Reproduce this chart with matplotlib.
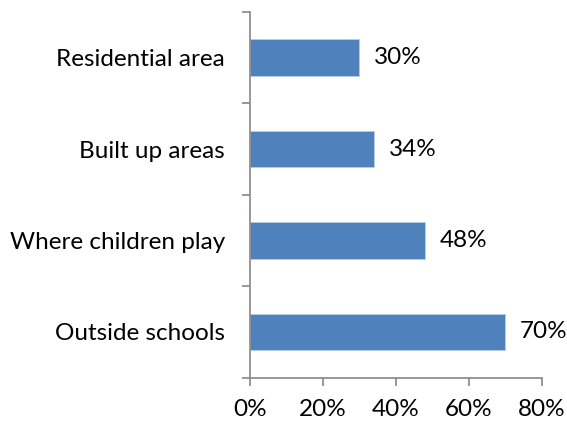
import matplotlib
matplotlib.use("Agg")
import matplotlib.pyplot as plt
from matplotlib.ticker import FixedLocator, PercentFormatter

categories = ["Outside schools", "Where children play", "Built up areas", "Residential area"]
values = [70, 48, 34, 30]
x_ticks = [0, 20, 40, 60, 80]

plt.rcParams["font.family"] = ["Lato", "DejaVu Sans"]
FS = 17.5
TEXT = "#000000"

fig = plt.figure(figsize=(5.67, 4.23), dpi=100)
ax = fig.add_axes([250 / 567, 1 - 377.7 / 423, 291.7 / 567, 365.7 / 423])

ypos = list(range(len(categories)))
ax.barh(ypos, values, height=0.4, color="#4F81BD", edgecolor="#B9CDE5", linewidth=0.6)

for y, v in zip(ypos, values):
    ax.text(v + 4, y, f"{v}%", va="center", ha="left", fontsize=FS, color=TEXT)

ax.set_xlim(0, 80)
ax.set_ylim(-0.5, len(categories) - 0.5)
ax.set_xticks(x_ticks)
ax.xaxis.set_major_formatter(PercentFormatter(decimals=0))
ax.set_yticks(ypos)
ax.set_yticklabels(categories)
ax.yaxis.set_minor_locator(FixedLocator([i - 0.5 for i in range(len(categories) + 1)]))

spine_color = "#868686"
for side in ("top", "right"):
    ax.spines[side].set_visible(False)
for side in ("left", "bottom"):
    ax.spines[side].set_color(spine_color)
    ax.spines[side].set_linewidth(1.2)

ax.tick_params(axis="y", which="major", length=0, pad=18, labelsize=FS, labelcolor=TEXT)
ax.tick_params(axis="y", which="minor", length=6, width=1.2, color=spine_color)
ax.tick_params(axis="x", which="major", length=6, width=1.2, color=spine_color,
               pad=9, labelsize=FS, labelcolor=TEXT)

fig.savefig("out.png", dpi=100, facecolor="white")
